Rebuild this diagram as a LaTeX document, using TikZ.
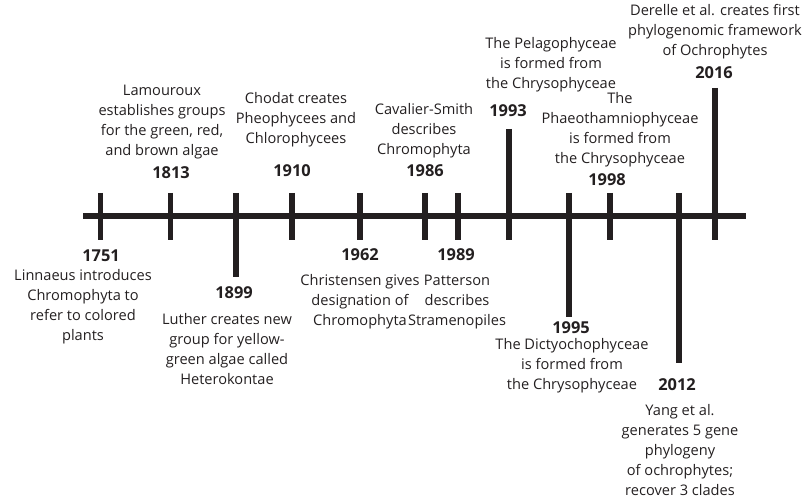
\documentclass[tikz,border=0pt]{standalone}
\usepackage{fontspec}
\setmainfont{Open Sans}
\usepackage{tikz}
\usepackage{xcolor}
\usetikzlibrary{positioning}
\definecolor{inkblack}{HTML}{231F20}
\tikzset{
  axis line/.style={draw=inkblack, line width=5.7pt},
  tick line/.style={draw=inkblack, line width=5.7pt},
  year/.style={font=\fontsize{16.4}{18}\selectfont\bfseries,
    text=inkblack, inner sep=0pt},
  event/.style={font=\fontsize{14.6}{20}\selectfont,
    text=inkblack, align=center, inner sep=0pt},
}

\begin{document}
\begin{tikzpicture}[x=1pt,y=-1pt]
  \useasboundingbox (0,0) rectangle (810,502);

  % time axis
  \coordinate (start) at (83,216);
  \coordinate (stop)  at (746,216);
  \draw[axis line] (start) -- (stop);

  % ticks
  \draw[tick line] (100.5,193) -- (100.5,240);
  \draw[tick line] (170.5,193) -- (170.5,240);
  \draw[tick line] (235.7,193) -- (235.7,277);
  \draw[tick line] (292,193)   -- (292,240);
  \draw[tick line] (360.3,193) -- (360.3,240);
  \draw[tick line] (425,193)   -- (425,240);
  \draw[tick line] (458,193)   -- (458,240);
  \draw[tick line] (508.7,129) -- (508.7,240);
  \draw[tick line] (568.7,193) -- (568.7,317);
  \draw[tick line] (609.7,193) -- (609.7,240);
  \draw[tick line] (679,193)   -- (679,363);
  \draw[tick line] (715,88)    -- (715,240);

  % below the axis
  \node[year]  (y1751) at (101,256) {1751};
  \node[event] (e1751) at (83,306.5)
    {Linnaeus introduces\\Chromophyta to\\refer to colored\\plants};

  \node[year]  (y1899) at (234,293) {1899};
  \node[event] (e1899) at (227,349.5)
    {Luther creates new\\group for yellow-\\green algae called\\Heterokontae};

  \node[year]  (y1962) at (360,255) {1962};
  \node[event] (e1962) at (360,302)
    {Christensen gives\\designation of\\Chromophyta};

  \node[year]  (y1989) at (456,255) {1989};
  \node[event] (e1989) at (457,302)
    {Patterson\\describes\\Stramenopiles};

  \node[year]  (y1995) at (571,328) {1995};
  \node[event] (e1995) at (572,366)
    {The Dictyochophyceae\\is formed from\\the Chrysophyceae};

  \node[year]  (y2012) at (677,385) {2012};
  \node[event] (e2012) at (680,450)
    {Yang et al.\\generates 5 gene\\phylogeny\\of ochrophytes;\\recover 3 clades};

  % above the axis
  \node[year]  (y1813) at (171,173) {1813};
  \node[event] (e1813) at (162,122)
    {Lamouroux\\establishes groups\\for the green, red,\\and brown algae};

  \node[year]  (y1910) at (292,171) {1910};
  \node[event] (e1910) at (296,120)
    {Chodat creates\\Pheophycees and\\Chlorophycees};

  \node[year]  (y1986) at (425,171) {1986};
  \node[event] (e1986) at (424,131)
    {Cavalier-Smith\\describes\\Chromophyta};

  \node[year]  (y1993) at (508,111) {1993};
  \node[event] (e1993) at (551,65)
    {The Pelagophyceae\\is formed from\\the Chrysophyceae};

  \node[year]  (y1998) at (607,180) {1998};
  \node[event] (e1998) at (620,130)
    {The\\Phaeothamniophyceae\\is formed from\\the Chrysophyceae};

  \node[year]  (y2016) at (714,73) {2016};
  \node[event] (e2016) at (715,31.5)
    {Derelle et al. creates first\\phylogenomic framework\\of Ochrophytes};
\end{tikzpicture}
\end{document}
